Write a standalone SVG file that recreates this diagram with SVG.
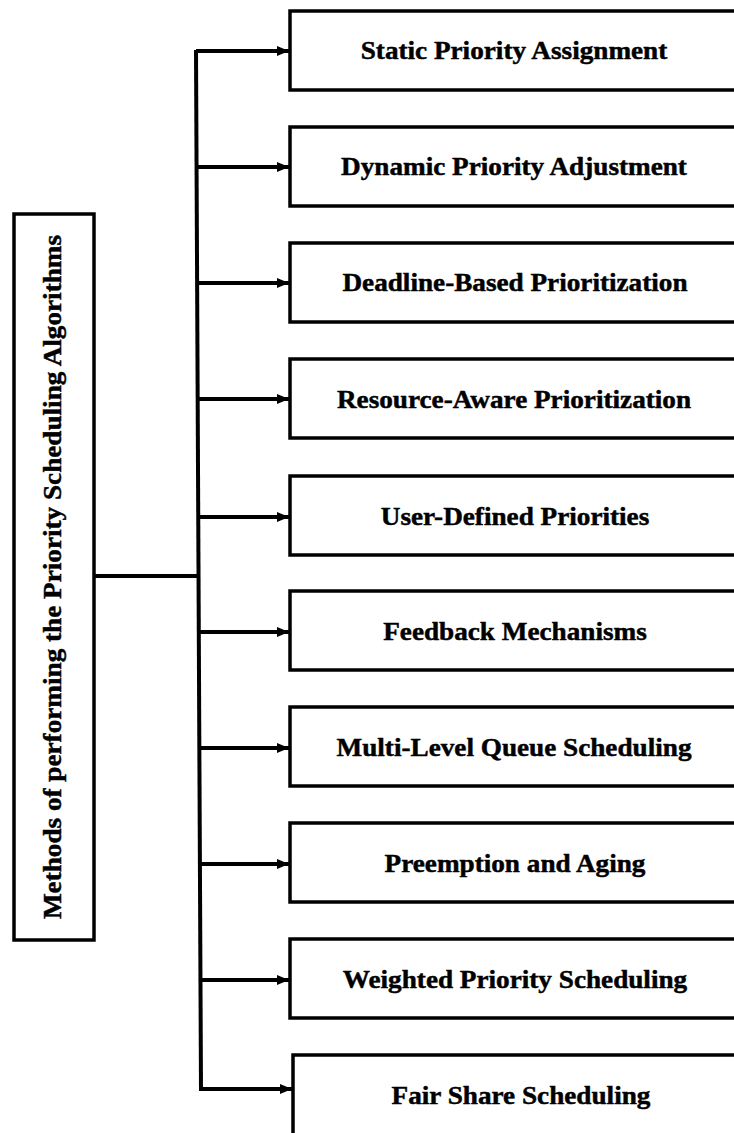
<svg xmlns="http://www.w3.org/2000/svg" width="734" height="1133" viewBox="0 0 734 1133">
  <style>
    .box { fill: #ffffff; stroke: #000000; stroke-width: 3.5; }
    .wire { fill: none; stroke: #000000; stroke-width: 4; }
    .label { font-family: "Liberation Serif", "Times New Roman", serif; font-weight: bold; font-size: 24.5px; fill: #000000; stroke: #000000; stroke-width: 0.45; text-anchor: middle; }
  </style>
  <defs>
    <marker id="arrow" markerUnits="userSpaceOnUse" markerWidth="12" markerHeight="12" refX="12" refY="6" orient="auto">
      <path d="M0,1 L12,6 L0,11 Z" fill="#000000"/>
    </marker>
  </defs>
  <rect width="734" height="1133" fill="#ffffff"/>

  <!-- connectors: trunk, root link and branch arrows -->
  <g id="connectors">
    <line class="wire" x1="95" y1="576" x2="197" y2="576"/>
    <line class="wire" x1="196" y1="50" x2="201" y2="1091"/>
    <line class="wire" x1="196" y1="51" x2="289" y2="51" marker-end="url(#arrow)"/>
    <line class="wire" x1="197" y1="167" x2="289" y2="167" marker-end="url(#arrow)"/>
    <line class="wire" x1="197" y1="283" x2="289" y2="283" marker-end="url(#arrow)"/>
    <line class="wire" x1="198" y1="399" x2="289" y2="399" marker-end="url(#arrow)"/>
    <line class="wire" x1="198" y1="517" x2="289" y2="517" marker-end="url(#arrow)"/>
    <line class="wire" x1="199" y1="632" x2="289" y2="632" marker-end="url(#arrow)"/>
    <line class="wire" x1="199" y1="748" x2="289" y2="748" marker-end="url(#arrow)"/>
    <line class="wire" x1="200" y1="864" x2="289" y2="864" marker-end="url(#arrow)"/>
    <line class="wire" x1="200" y1="980" x2="289" y2="980" marker-end="url(#arrow)"/>
    <line class="wire" x1="199" y1="1089" x2="292" y2="1089" marker-end="url(#arrow)"/>
  </g>

  <!-- root node -->
  <g id="root">
    <rect class="box" x="14" y="214" width="80" height="726"/>
    <text class="label" transform="translate(61,577) rotate(-90) scale(1.11,1)">Methods of performing the Priority Scheduling Algorithms</text>
  </g>

  <!-- method nodes -->
  <g id="static-priority">
    <rect class="box" x="290" y="11" width="460" height="79"/>
    <text class="label" transform="translate(514,59) scale(1.11,1)">Static Priority Assignment</text>
  </g>
  <g id="dynamic-priority">
    <rect class="box" x="290" y="127" width="460" height="79"/>
    <text class="label" transform="translate(514,175) scale(1.11,1)">Dynamic Priority Adjustment</text>
  </g>
  <g id="deadline-based">
    <rect class="box" x="290" y="243" width="460" height="79"/>
    <text class="label" transform="translate(515,291) scale(1.11,1)">Deadline-Based Prioritization</text>
  </g>
  <g id="resource-aware">
    <rect class="box" x="290" y="359" width="460" height="79"/>
    <text class="label" transform="translate(514,408) scale(1.11,1)">Resource-Aware Prioritization</text>
  </g>
  <g id="user-defined">
    <rect class="box" x="290" y="476" width="460" height="79"/>
    <text class="label" transform="translate(515,525) scale(1.11,1)">User-Defined Priorities</text>
  </g>
  <g id="feedback">
    <rect class="box" x="290" y="591" width="460" height="79"/>
    <text class="label" transform="translate(515,640) scale(1.11,1)">Feedback Mechanisms</text>
  </g>
  <g id="multi-level-queue">
    <rect class="box" x="290" y="707" width="460" height="79"/>
    <text class="label" transform="translate(514,756) scale(1.11,1)">Multi-Level Queue Scheduling</text>
  </g>
  <g id="preemption-aging">
    <rect class="box" x="290" y="823" width="460" height="79"/>
    <text class="label" transform="translate(515,872) scale(1.11,1)">Preemption and Aging</text>
  </g>
  <g id="weighted-priority">
    <rect class="box" x="290" y="939" width="460" height="79"/>
    <text class="label" transform="translate(515,988) scale(1.11,1)">Weighted Priority Scheduling</text>
  </g>
  <g id="fair-share">
    <rect class="box" x="293" y="1055" width="460" height="100"/>
    <text class="label" transform="translate(521,1104) scale(1.11,1)">Fair Share Scheduling</text>
  </g>
</svg>
